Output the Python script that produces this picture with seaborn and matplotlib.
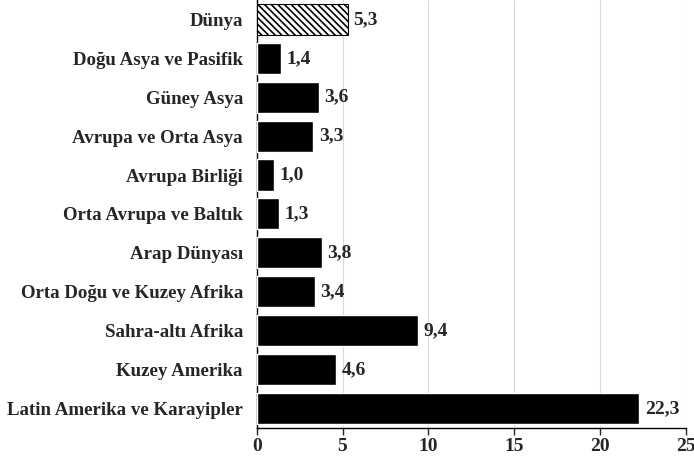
import pandas as pd
import numpy as np
import matplotlib.pyplot as plt
import seaborn as sns

regions = ['Dünya', 'Doğu Asya ve Pasifik', 'Güney Asya', 'Avrupa ve Orta Asya',
           'Avrupa Birliği', 'Orta Avrupa ve Baltık', 'Arap Dünyası',
           'Orta Doğu ve Kuzey Afrika', 'Sahra-altı Afrika', 'Kuzey Amerika',
           'Latin Amerika ve Karayipler']
values = [5.3, 1.4, 3.6, 3.3, 1.0, 1.3, 3.8, 3.4, 9.4, 4.6, 22.3]

df = pd.DataFrame({'region': regions, 'value': values})

sns.set_style('white')
plt.rcParams['font.family'] = ['Liberation Serif', 'DejaVu Serif']
plt.rcParams['font.weight'] = 'bold'
plt.rcParams['hatch.linewidth'] = 1.2

fig = plt.figure(figsize=(6.94, 4.62), dpi=100)
ax = fig.add_axes([0.370, 0.074, 0.618, 0.926])

sns.barplot(data=df, y='region', x='value', color='black', width=0.8,
            saturation=1, ax=ax, zorder=3)

# first bar (Dünya) is hatched
first = ax.patches[0]
first.set_facecolor('white')
first.set_edgecolor('black')
first.set_hatch('\\\\\\\\\\')
first.set_linewidth(0.8)

labels = [f'{v:.1f}'.replace('.', ',') for v in values]
ax.bar_label(ax.containers[0], labels=labels, padding=4,
             fontsize=14, fontweight='bold')

ax.set_xlim(0, 25)
ax.set_ylim(10.5, -0.5)
ax.set_xticks([0, 5, 10, 15, 20, 25])
ax.xaxis.grid(True, color='#d9d9d9', linewidth=0.8, zorder=0)
ax.set_axisbelow(True)
ax.set_xlabel('')
ax.set_ylabel('')

for s in ['top', 'right']:
    ax.spines[s].set_visible(False)
for s in ['left', 'bottom']:
    ax.spines[s].set_color('black')
    ax.spines[s].set_linewidth(1.0)

ax.tick_params(axis='x', direction='out', length=5, width=1, bottom=True,
               labelsize=14, pad=2)
ax.tick_params(axis='y', length=0, labelsize=13.6, pad=10)
for t in ax.get_xticklabels() + ax.get_yticklabels():
    t.set_fontweight('bold')

fig.savefig('out.png', dpi=100)
